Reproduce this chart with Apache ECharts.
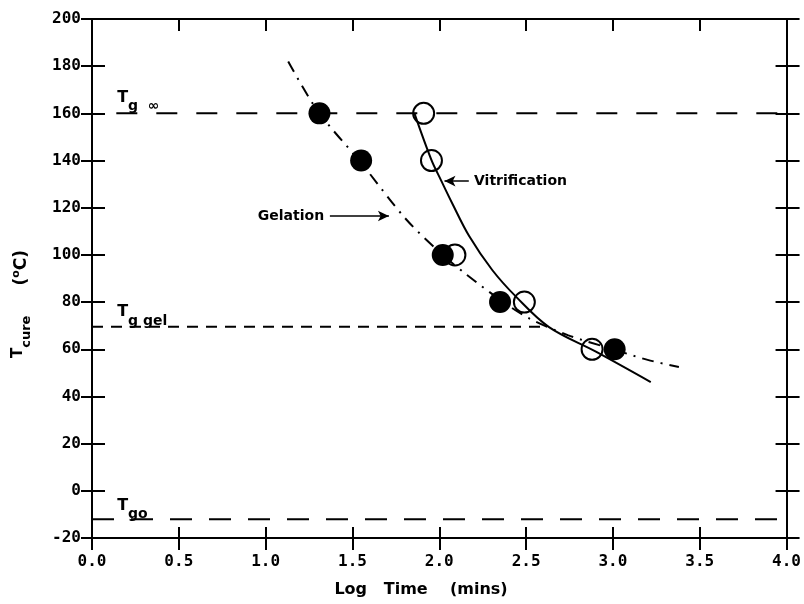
<!DOCTYPE html>
<html>
<head>
<meta charset="utf-8">
<script src="https://cdn.jsdelivr.net/npm/echarts@6/dist/echarts.min.js"></script>
<style>html,body{margin:0;background:#fff}#chart{width:804px;height:604px}</style>
</head>
<body>
<div id="chart"></div>
<script>
// measured points (log time, Tcure)
var gelX = [1.31, 1.55, 2.02, 2.35, 3.01];
var gelY = [160, 140, 100, 80, 60];
var vitX = [1.91, 1.955, 2.09, 2.49, 2.88];
var vitY = [160, 140, 100, 80, 60];

// fitted curves
var gelFitX = [1.13, 1.30, 1.55, 1.81, 2.02, 2.16, 2.35, 2.52, 2.74, 3.00, 3.20, 3.38];
var gelFitY = [182, 161, 139, 115, 100, 91.5, 81, 73, 66, 60, 55.5, 52.5];
var vitFitX = [1.856, 1.954, 2.011, 2.075, 2.172, 2.305, 2.443, 2.632, 2.902, 3.218];
var vitFitY = [160.2, 140.4, 131.5, 121.8, 108.0, 93.6, 82.2, 69.4, 59.0, 46.1];

// Tg reference lines
var tgNames = ['{T|T}{s|g  ∞}', '{T|T}{s|g gel}', '{T|T}{s|g}{o|o}'];
var tgY = [160, 69.5, -12];
var tgStart = [0.14, 0, 0];
var tgEnd = [4.09, 2.62, 4.09];
var tgLabelX = [0.145, 0.145, 0.145];
var tgLabelY = [165, 74, -8];

// axis ranges
var xMin = 0, xMax = 4, xStep = 0.5;
var yMin = -20, yMax = 200, yStep = 20;

var chart = echarts.init(document.getElementById('chart'));

function pairs(xs, ys) {
  return xs.map(function (x, i) { return [x, ys[i]]; });
}

var tickFont = { fontFamily: 'DejaVu Sans Mono', fontWeight: 'bold', fontSize: 16, color: '#000' };
var textFont = 'DejaVu Sans';

function axis(pos, inside, len, label, isX) {
  return {
    type: 'value', position: pos,
    min: isX ? xMin : yMin, max: isX ? xMax : yMax, interval: isX ? xStep : yStep,
    axisLine: { show: true, onZero: false, lineStyle: { color: '#000', width: 2 } },
    axisTick: { show: true, inside: inside, length: len, lineStyle: { color: '#000', width: 2 } },
    splitLine: { show: false },
    axisLabel: label ? Object.assign({
      show: true, margin: isX ? 16 : 11,
      formatter: function (v) { return isX ? v.toFixed(1) : String(v); }
    }, tickFont) : { show: false }
  };
}

var series = [];
tgY.forEach(function (y, i) {
  var dash = i === 1 ? [11, 8] : (i === 0 ? [21, 19] : [22, 17]);
  series.push({
    type: 'line', clip: false, symbol: 'none', silent: true,
    data: [[tgStart[i], y], [tgEnd[i], y]],
    lineStyle: { color: '#000', width: 2, type: dash }
  });
});
series.push({
  type: 'line', smooth: 0.3, symbol: 'none', clip: false,
  data: pairs(gelFitX, gelFitY),
  lineStyle: { color: '#000', width: 2, type: [12, 7, 2, 7] }
});
series.push({
  type: 'line', smooth: 0.35, symbol: 'none', clip: false,
  data: pairs(vitFitX, vitFitY),
  lineStyle: { color: '#000', width: 2 }
});
series.push({
  type: 'scatter', symbol: 'circle', symbolSize: 21,
  data: pairs(vitX, vitY),
  itemStyle: { color: 'rgba(255,255,255,0)', borderColor: '#000', borderWidth: 2, opacity: 1 }
});
series.push({
  type: 'scatter', symbol: 'circle', symbolSize: 22,
  data: pairs(gelX, gelY),
  itemStyle: { color: '#000', opacity: 1 }
});
// text annotations + arrows
series.push({
  type: 'scatter', symbolSize: 0, silent: true,
  itemStyle: { opacity: 1 },
  data: tgY.map(function (y, i) { return [tgLabelX[i], tgLabelY[i], tgNames[i]]; })
    .concat([[0.955, 116.5, 'Gelation'], [2.2, 131.3, 'Vitrification']]),
  label: {
    show: true, position: 'right', distance: 0, color: '#000',
    fontFamily: textFont, fontWeight: 'bold', fontSize: 14,
    formatter: function (p) { return p.data[2]; },
    rich: {
      T: { fontFamily: textFont, fontWeight: 'bold', fontSize: 16, lineHeight: 24, verticalAlign: 'top', color: '#000' },
      s: { fontFamily: textFont, fontWeight: 'bold', fontSize: 14, lineHeight: 13, verticalAlign: 'bottom', color: '#000' },
      o: { fontFamily: textFont, fontWeight: 'bold', fontSize: 14, lineHeight: 6, verticalAlign: 'bottom', color: '#000' }
    }
  },
  markLine: {
    silent: true, symbol: ['none', 'arrow'], symbolSize: [8, 11],
    label: { show: false },
    lineStyle: { color: '#000', width: 1.5, type: 'solid', opacity: 1 },
    data: [
      [{ coord: [1.37, 116.5] }, { coord: [1.71, 116.5] }],
      [{ coord: [2.17, 131.3] }, { coord: [2.03, 131.3] }]
    ]
  }
});

chart.setOption({
  animation: false,
  backgroundColor: '#fff',
  grid: { left: 92, right: 16, top: 19, bottom: 66 },
  xAxis: [
    axis('bottom', false, 12, true, true),
    axis('bottom', true, 11, false, true),
    axis('top', true, 12, false, true)
  ],
  yAxis: [
    axis('left', false, 11, true, false),
    axis('left', true, 13, false, false),
    axis('right', false, 13, false, false),
    axis('right', true, 11, false, false)
  ],
  graphic: [
    {
      type: 'text', x: 22, y: 304, rotation: Math.PI / 2,
      style: {
        text: '{T|T}{s|cure}         {p|(}{d|o}{p|C)}',
        align: 'center', verticalAlign: 'middle',
        rich: {
          T: { fontFamily: textFont, fontWeight: 'bold', fontSize: 15, lineHeight: 22, verticalAlign: 'top', fill: '#000' },
          s: { fontFamily: textFont, fontWeight: 'bold', fontSize: 13, lineHeight: 13, verticalAlign: 'bottom', fill: '#000' },
          p: { fontFamily: textFont, fontWeight: 'bold', fontSize: 17, lineHeight: 22, verticalAlign: 'middle', fill: '#000' },
          d: { fontFamily: textFont, fontWeight: 'bold', fontSize: 11, lineHeight: 10, verticalAlign: 'top', fill: '#000' }
        }
      }
    },
    {
      type: 'text', x: 421, y: 590,
      style: {
        text: 'Log   Time    (mins)', align: 'center', verticalAlign: 'middle',
        fontFamily: textFont, fontWeight: 'bold', fontSize: 16, fill: '#000'
      }
    }
  ],
  series: series
});
</script>
</body>
</html>
